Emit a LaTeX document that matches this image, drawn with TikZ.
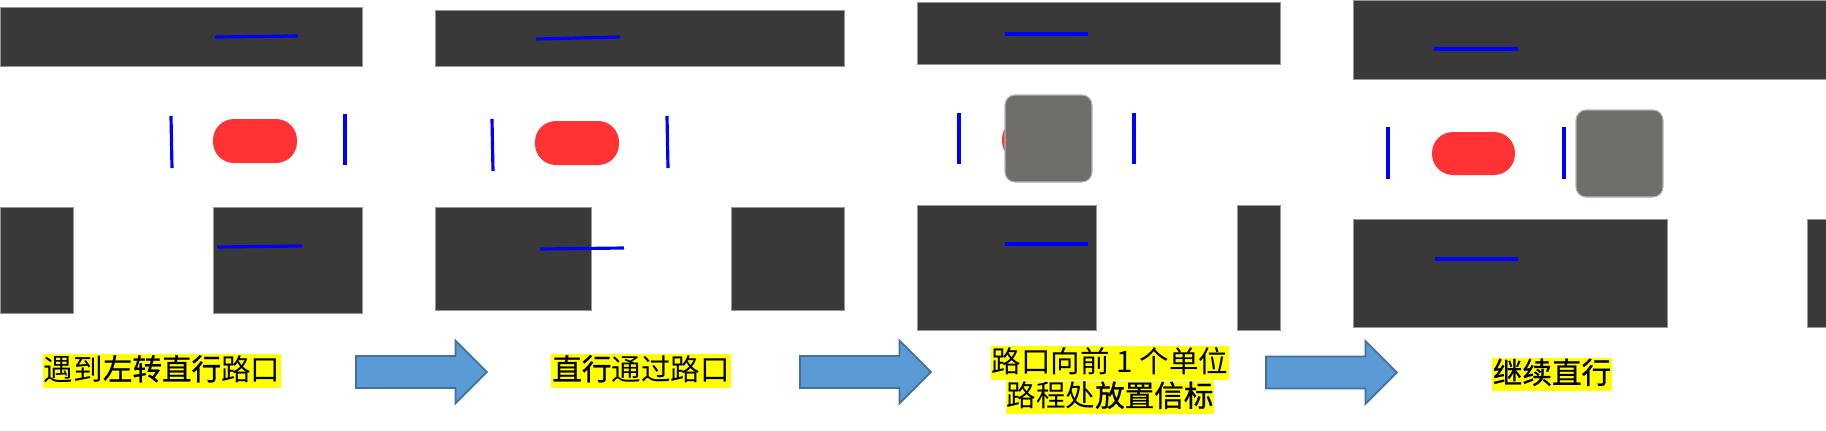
\documentclass[tikz,border=0pt]{standalone}
\usepackage{fontspec}
\newfontfamily\cjk{Noto Sans CJK SC}
\newfontfamily\cjkheavy{Noto Sans CJK SC}[FakeBold=0.8]
\usepackage{xcolor}
\usepackage{tikz}
\usetikzlibrary{shapes.arrows, positioning}
\definecolor{roadgray}{RGB}{57, 57, 57}
\definecolor{roadedge}{RGB}{150, 150, 150}
\definecolor{lanemark}{RGB}{0, 0, 255}
\definecolor{carred}{RGB}{255, 51, 51}
\definecolor{beacongray}{RGB}{112, 110, 107}
\definecolor{arrowblue}{RGB}{91, 155, 213}
\definecolor{arrowedge}{RGB}{65, 113, 156}
\definecolor{notebg}{RGB}{255, 255, 0}
\newcommand{\heavy}[1]{{\cjkheavy\fontsize{8.4pt}{10pt}\selectfont #1}}
\tikzset{
  roadblock/.style={fill=roadgray, draw=roadedge, line width=0.25pt},
  laneline/.style={draw=lanemark, line width=0.9pt},
  carbody/.style={fill=carred, rounded corners=0.21cm},
  beaconbox/.style={fill=beacongray, draw=roadedge!70, line width=0.3pt, rounded corners=0.1cm},
  stepnote/.style={
    fill=notebg, inner xsep=0.3pt, inner ysep=0.5pt,
    text height=0.24cm, text depth=0.06cm,
    font=\cjk\fontsize{8.4pt}{10pt}\selectfont
  },
  flowarrow/.style={
    single arrow, fill=arrowblue, draw=arrowedge, line width=0.5pt,
    inner sep=0pt, inner ysep=0.15cm, minimum width=0.61cm,
    minimum height=1.31cm, single arrow head extend=0.155cm, anchor=tail
  }
}
\begin{document}
\begin{tikzpicture}[x=0.01cm, y=-0.01cm]
  \useasboundingbox (0,0) rectangle (1826,430);

  % Panel 1: reaching the crossing
  \draw[roadblock] (0,7) rectangle (362,66);
  \draw[roadblock] (0,207) rectangle (73,313);
  \draw[roadblock] (213,207) rectangle (362,313);
  \draw[laneline] (215,37) -- (298,36);
  \draw[laneline] (217,247) -- (302,246);
  \draw[laneline] (171,116) -- (172,168);
  \draw[laneline] (345,114) -- (345,165);
  \fill[carbody] (213,119) rectangle (297,163);

  % Panel 2: passing straight through
  \draw[roadblock] (435,10) rectangle (844,66);
  \draw[roadblock] (435,207) rectangle (591,310);
  \draw[roadblock] (731,207) rectangle (844,310);
  \draw[laneline] (536,39) -- (620,37);
  \draw[laneline] (540,249) -- (624,248);
  \draw[laneline] (492,119) -- (493,171);
  \draw[laneline] (667,116) -- (668,168);
  \fill[carbody] (535,121) rectangle (619,165);

  % Panel 3: beacon placed one unit ahead
  \draw[roadblock] (917,2) rectangle (1280,64);
  \draw[roadblock] (917,205) rectangle (1096,330);
  \draw[roadblock] (1237,205) rectangle (1280,330);
  \draw[laneline] (1005,34) -- (1088,34);
  \draw[laneline] (1005,244) -- (1088,244);
  \draw[laneline] (959,113) -- (959,164);
  \draw[laneline] (1134,113) -- (1134,164);
  \fill[carbody] (1002,118) rectangle (1086,162);
  \draw[beaconbox] (1005,95) rectangle (1092,182);

  % Panel 4: keep going straight
  \draw[roadblock] (1353,0) rectangle (1826,79);
  \draw[roadblock] (1353,219) rectangle (1667,327);
  \draw[roadblock] (1807,219) rectangle (1826,327);
  \draw[laneline] (1434,49) -- (1518,49);
  \draw[laneline] (1435,259) -- (1518,259);
  \draw[laneline] (1388,127) -- (1388,179);
  \draw[laneline] (1564,127) -- (1564,179);
  \fill[carbody] (1432,132) rectangle (1515,175);
  \draw[beaconbox] (1576,110) rectangle (1663,197);

  % Captions and step arrows
  \node[stepnote] (meet) at (162,371) {遇到\heavy{左转直行}路口};
  \node[flowarrow] (arrowa) at (355,372) {};
  \node[stepnote] (pass) at (641,371) {\heavy{直行}通过路口};
  \node[flowarrow] (arrowb) at (799,372) {};
  \node[stepnote] (placea) at (1110,363) {路口向前 1 个单位};
  \node[stepnote] (placeb) at (1110,397.5) {路程处\heavy{放置信标}};
  \node[flowarrow] (arrowc) at (1265,372.5) {};
  \node[stepnote] (goon) at (1552,374.5) {\heavy{继续直行}};

\end{tikzpicture}
\end{document}
